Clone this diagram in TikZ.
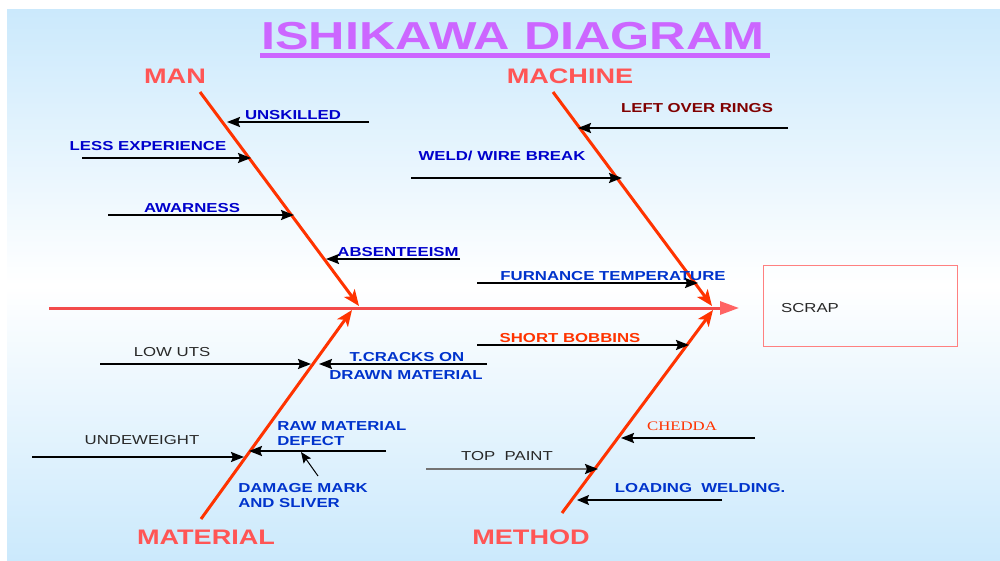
\documentclass[tikz,border=0pt]{standalone}
\usepackage{fontspec}
\setmainfont{Liberation Sans}
\newfontfamily\serifx{Liberation Serif}
\usetikzlibrary{arrows.meta}
\definecolor{bgb}{RGB}{203,233,252}
\definecolor{titlec}{RGB}{204,102,255}
\definecolor{catc}{RGB}{255,85,85}
\definecolor{bonec}{RGB}{255,51,0}
\definecolor{spinec}{RGB}{242,75,75}
\definecolor{spinetip}{RGB}{255,100,100}
\definecolor{dblue}{RGB}{0,0,204}
\definecolor{mblue}{RGB}{0,51,204}
\definecolor{dred}{RGB}{128,0,0}
\definecolor{gtext}{RGB}{40,40,40}
\definecolor{boxc}{RGB}{255,128,128}
\begin{document}
\begin{tikzpicture}[x=1pt,y=-1pt,
  title/.style={font=\bfseries\fontsize{39}{44}\selectfont, text=titlec, xscale=1.29, inner sep=0pt, anchor=base},
  cat/.style={font=\bfseries\fontsize{21}{24}\selectfont, text=catc, xscale=1.29, inner sep=0pt, anchor=base},
  lbl/.style={font=\bfseries\fontsize{13}{15}\selectfont, xscale=1.29, inner sep=0pt, anchor=base},
  reg/.style={font=\fontsize{13}{15}\selectfont, text=gtext, xscale=1.29, inner sep=0pt, anchor=base},
  bone/.style={draw=bonec, line width=3pt, -{Stealth[length=16pt,width=13pt,inset=4pt]}},
  sm/.style={draw=black, line width=2pt, -{Stealth[length=13pt,width=10pt,inset=2pt]}},
  thin/.style={draw=black, line width=1.2pt, -{Stealth[length=12pt,width=10pt,inset=2pt]}}
]
\useasboundingbox (0,0) rectangle (1000,561);
\shade[top color=bgb, bottom color=bgb, middle color=white] (7,10) rectangle (1000,561);

% title
\node[title] (ttl) at (513,50) {ISHIKAWA DIAGRAM};
\draw[titlec, line width=5pt] (260,56) -- (770,56);

% categories
\node[cat] (man) at (175,84) {MAN};
\node[cat] (mach) at (570,84) {MACHINE};
\node[cat] (mat) at (206,544) {MATERIAL};
\node[cat] (meth) at (531,544) {METHOD};

% spine and effect box
\coordinate (spL) at (49,308);
\coordinate (spR) at (739,308);
\draw[spinec, line width=3pt, -{Triangle[length=19pt,width=13pt,color=spinetip]}] (spL) -- (spR);
\node[draw=boxc, line width=1pt, minimum width=194pt, minimum height=81pt, inner sep=0pt] (box) at (860,305.5) {};
\node[reg] (scrap) at (810,312) {SCRAP};

% bones
\coordinate (manT) at (200,92);   \coordinate (manE) at (359,306);
\coordinate (macT) at (553,92);   \coordinate (macE) at (712,306);
\coordinate (matT) at (201,519);  \coordinate (matE) at (352,310);
\coordinate (metT) at (562,513);  \coordinate (metE) at (713,310);
\draw[bone] (manT) -- (manE);
\draw[bone] (macT) -- (macE);
\draw[bone] (matT) -- (matE);
\draw[bone] (metT) -- (metE);

% MAN causes
\node[lbl, text=dblue] (c1) at (293,120) {UNSKILLED};
\coordinate (c1s) at (369,122); \coordinate (c1e) at (227,122);
\draw[sm] (c1s) -- (c1e);
\node[lbl, text=dblue] (c2) at (148,151) {LESS EXPERIENCE};
\coordinate (c2s) at (82,158); \coordinate (c2e) at (251,158);
\draw[sm] (c2s) -- (c2e);
\node[lbl, text=dblue] (c3) at (192,213) {AWARNESS};
\coordinate (c3s) at (108,215); \coordinate (c3e) at (294,215);
\draw[sm] (c3s) -- (c3e);
\node[lbl, text=dblue] (c4) at (398,256) {ABSENTEEISM};
\coordinate (c4s) at (460,259); \coordinate (c4e) at (326,259);
\draw[sm] (c4s) -- (c4e);

% MACHINE causes
\node[lbl, text=dred] (c5) at (697,113) {LEFT OVER RINGS};
\coordinate (c5s) at (788,128); \coordinate (c5e) at (578,128);
\draw[sm] (c5s) -- (c5e);
\node[lbl, text=dblue] (c6) at (502,161) {WELD/ WIRE BREAK};
\coordinate (c6s) at (411,178); \coordinate (c6e) at (622,178);
\draw[sm] (c6s) -- (c6e);
\node[lbl, text=mblue] (c7) at (613,280) {FURNANCE TEMPERATURE};
\coordinate (c7s) at (477,283); \coordinate (c7e) at (698,283);
\draw[sm] (c7s) -- (c7e);

% METHOD causes
\node[lbl, text=bonec] (c8) at (570,342) {SHORT BOBBINS};
\coordinate (c8s) at (477,345); \coordinate (c8e) at (689,345);
\draw[sm] (c8s) -- (c8e);
\node[font=\serifx\fontsize{13}{15}\selectfont, text=bonec, xscale=1.29, inner sep=0pt, anchor=base] (c9) at (682,430) {CHEDDA};
\coordinate (c9s) at (755,438); \coordinate (c9e) at (621,438);
\draw[sm] (c9s) -- (c9e);
\node[reg] (c10) at (507,460) {TOP\ \ PAINT};
\coordinate (c10s) at (426,469); \coordinate (c10e) at (598,469);
\draw[sm, draw=gray!90!black, -{Stealth[length=13pt,width=10pt,inset=2pt,color=black]}] (c10s) -- (c10e);
\node[lbl, text=mblue] (c11) at (700,492) {LOADING\ \ WELDING.};
\coordinate (c11s) at (722,500); \coordinate (c11e) at (577,500);
\draw[thin] (c11s) -- (c11e);

% MATERIAL causes
\node[lbl, text=mblue] (c12a) at (407,361) {T.CRACKS ON};
\node[lbl, text=mblue] (c12b) at (406,379) {DRAWN MATERIAL};
\coordinate (c12s) at (487,364); \coordinate (c12e) at (319,364);
\draw[sm] (c12s) -- (c12e);
\node[reg] (c13) at (172,356) {LOW UTS};
\coordinate (c13s) at (100,364); \coordinate (c13e) at (311,364);
\draw[sm] (c13s) -- (c13e);
\node[reg] (c14) at (142,444) {UNDEWEIGHT};
\coordinate (c14s) at (32,457); \coordinate (c14e) at (244,457);
\draw[sm] (c14s) -- (c14e);
\node[lbl, text=mblue, anchor=base west] (c15a) at (277,430) {RAW MATERIAL};
\node[lbl, text=mblue, anchor=base west] (c15b) at (277,445) {DEFECT};
\coordinate (c15s) at (386,451); \coordinate (c15e) at (249,451);
\draw[sm] (c15s) -- (c15e);
\node[lbl, text=mblue, anchor=base west] (c16a) at (238,492) {DAMAGE MARK};
\node[lbl, text=mblue, anchor=base west] (c16b) at (238,507) {AND SLIVER};
\coordinate (c16s) at (318,476); \coordinate (c16e) at (301,452);
\draw[draw=black, line width=1pt, -{Stealth[length=11pt,width=9pt,inset=2pt]}] (c16s) -- (c16e);
\end{tikzpicture}
\end{document}
